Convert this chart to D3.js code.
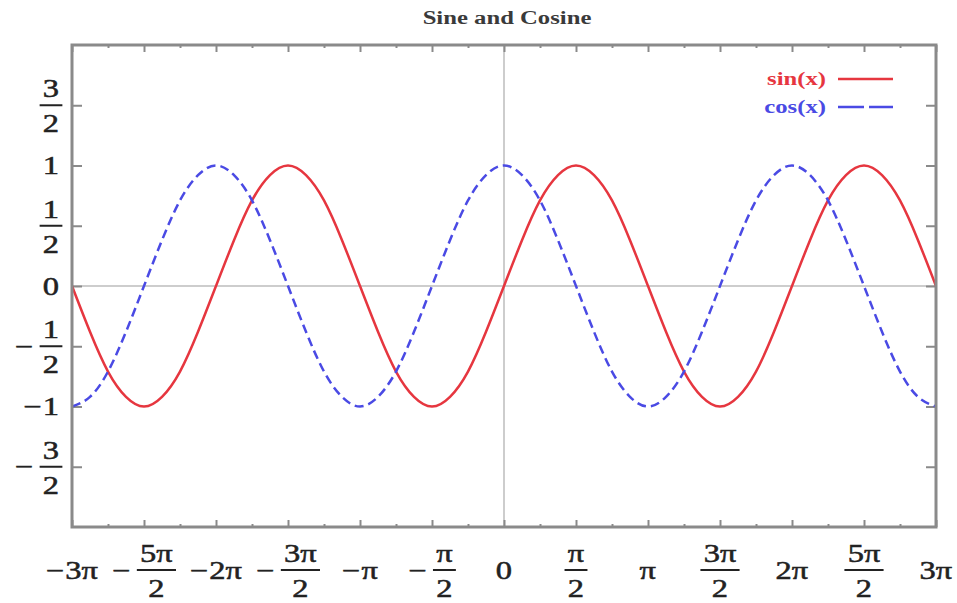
<!DOCTYPE html>
<html>
<head>
<meta charset="utf-8">
<script src="https://cdn.jsdelivr.net/npm/d3@7"></script>
<style>
  body { margin: 0; background: #fff; }
  svg { display: block; }
</style>
</head>
<body>
<svg id="canvas"></svg>
<script>
// Sine and Cosine, x in multiples of pi

// sample positions, in units of pi (step pi/8)
let xPi = [-3, -2.875, -2.75, -2.625, -2.5, -2.375, -2.25, -2.125,
           -2, -1.875, -1.75, -1.625, -1.5, -1.375, -1.25, -1.125,
           -1, -0.875, -0.75, -0.625, -0.5, -0.375, -0.25, -0.125,
           0, 0.125, 0.25, 0.375, 0.5, 0.625, 0.75, 0.875,
           1, 1.125, 1.25, 1.375, 1.5, 1.625, 1.75, 1.875,
           2, 2.125, 2.25, 2.375, 2.5, 2.625, 2.75, 2.875, 3]

let sinValues = [0, -0.38, -0.71, -0.92, -1, -0.92, -0.71, -0.38,
                 0, 0.38, 0.71, 0.92, 1, 0.92, 0.71, 0.38,
                 0, -0.38, -0.71, -0.92, -1, -0.92, -0.71, -0.38,
                 0, 0.38, 0.71, 0.92, 1, 0.92, 0.71, 0.38,
                 0, -0.38, -0.71, -0.92, -1, -0.92, -0.71, -0.38,
                 0, 0.38, 0.71, 0.92, 1, 0.92, 0.71, 0.38, 0]

let cosValues = [-1, -0.92, -0.71, -0.38, 0, 0.38, 0.71, 0.92,
                 1, 0.92, 0.71, 0.38, 0, -0.38, -0.71, -0.92,
                 -1, -0.92, -0.71, -0.38, 0, 0.38, 0.71, 0.92,
                 1, 0.92, 0.71, 0.38, 0, -0.38, -0.71, -0.92,
                 -1, -0.92, -0.71, -0.38, 0, 0.38, 0.71, 0.92,
                 1, 0.92, 0.71, 0.38, 0, -0.38, -0.71, -0.92, -1]

// tick values (pi units for x)
let xMajorTicks = [-3, -2.5, -2, -1.5, -1, -0.5, 0, 0.5, 1, 1.5, 2, 2.5, 3]
let xMinorTicks = [-2.75, -2.25, -1.75, -1.25, -0.75, -0.25, 0.25, 0.75, 1.25, 1.75, 2.25, 2.75]
let xTickLabels = ['−3π', '−5π/2', '−2π', '−3π/2', '−π', '−π/2', '0', 'π/2', 'π', '3π/2', '2π', '5π/2', '3π']

let yTicks = [-1.5, -1, -0.5, 0, 0.5, 1, 1.5]
let yTickLabels = ['−3/2', '−1', '−1/2', '0', '1/2', '1', '3/2']

let seriesNames = ['sin(x)', 'cos(x)']
let seriesColors = ['#e6363f', '#4a4ae4']

//Dimensions
let width = 957
let height = 603
let plotLeft = 72, plotRight = 936, plotTop = 45, plotBottom = 527
let fontFam = '"Liberation Serif", "Times New Roman", serif'
let sx = 1.3        // the picture is stretched sideways
let textColor = '#222'

let svg = d3.select('#canvas').attr('width', width).attr('height', height)

let xScale = d3.scaleLinear().domain([-3 * Math.PI, 3 * Math.PI]).range([plotLeft, plotRight])
let yScale = d3.scaleLinear().domain([-2, 2]).range([plotBottom, plotTop])

svg.append('clipPath').attr('id', 'clip')
  .append('rect')
  .attr('x', plotLeft).attr('y', plotTop)
  .attr('width', plotRight - plotLeft).attr('height', plotBottom - plotTop)

// zero axes
svg.append('line')
  .attr('x1', plotLeft).attr('x2', plotRight)
  .attr('y1', yScale(0)).attr('y2', yScale(0))
  .attr('stroke', '#bdbdbd').attr('stroke-width', 1.5)
svg.append('line')
  .attr('x1', xScale(0)).attr('x2', xScale(0))
  .attr('y1', plotTop).attr('y2', plotBottom)
  .attr('stroke', '#bdbdbd').attr('stroke-width', 1.5)

// ticks on all four sides, pointing inward
let tickAxis = (axis, tx, ty, cls) => {
  let g = svg.append('g')
    .attr('class', cls)
    .attr('transform', `translate(${tx},${ty})`)
    .call(axis)
  g.select('.domain').remove()
  g.selectAll('text').remove()
  g.selectAll('line').attr('stroke', '#8a8a8a').attr('stroke-width', 2)
  return g
}
let xAll = xMajorTicks.concat(xMinorTicks).map(d => d * Math.PI)
let isMinor = d => xMinorTicks.some(m => Math.abs(m * Math.PI - d) < 1e-9)

let bx = tickAxis(d3.axisTop(xScale).tickValues(xAll).tickSize(7), 0, plotBottom, 'x-bottom')
bx.selectAll('.tick line').attr('y2', d => isMinor(d) ? -3 : -7)
let tx = tickAxis(d3.axisBottom(xScale).tickValues(xAll).tickSize(7), 0, plotTop, 'x-top')
tx.selectAll('.tick line').attr('y2', d => isMinor(d) ? 3 : 7)
tickAxis(d3.axisRight(yScale).tickValues(yTicks).tickSize(10), plotLeft, 0, 'y-left')
tickAxis(d3.axisLeft(yScale).tickValues(yTicks).tickSize(10), plotRight, 0, 'y-right')

// curves
let line = d3.line()
  .x((d, i) => xScale(xPi[i] * Math.PI))
  .y(d => yScale(d))
  .curve(d3.curveNatural)

let plot = svg.append('g').attr('clip-path', 'url(#clip)')
plot.append('path')
  .datum(sinValues)
  .attr('d', line)
  .attr('fill', 'none')
  .attr('stroke', seriesColors[0])
  .attr('stroke-width', 2.5)
plot.append('path')
  .datum(cosValues)
  .attr('d', line)
  .attr('fill', 'none')
  .attr('stroke', seriesColors[1])
  .attr('stroke-width', 2.5)
  .attr('stroke-dasharray', '9,5')

// frame
svg.append('rect')
  .attr('x', plotLeft).attr('y', plotTop)
  .attr('width', plotRight - plotLeft).attr('height', plotBottom - plotTop)
  .attr('fill', 'none')
  .attr('stroke', '#8a8a8a')
  .attr('stroke-width', 3)

// shared look of the maths labels
let styleText = (t, size) => t
  .style('font-family', fontFam).style('font-size', size + 'px')
  .attr('fill', textColor)
  .attr('stroke', textColor).attr('stroke-width', 0.5)

// label with optional minus sign and stacked fraction
// cx: where the number (or fraction) is centred, cy: fraction bar / text middle
let mathLabel = (parent, label, cx, cy, size, centreAll) => {
  let g = parent.append('g').attr('transform', `translate(${cx},${cy})`)
  let inner = g.append('g').attr('transform', `scale(${sx},1)`)
  let sign = label.startsWith('−')
  let body = sign ? label.slice(1) : label
  let halfW
  if (body.includes('/')) {
    let [num, den] = body.split('/')
    let tNum = inner.append('text').attr('y', -8).attr('text-anchor', 'middle').text(num)
    let tDen = inner.append('text').attr('y', 27).attr('text-anchor', 'middle').text(den)
    styleText(tNum, size)
    styleText(tDen, size)
    let w = Math.max(tNum.node().getComputedTextLength(), tDen.node().getComputedTextLength()) + 5
    halfW = w / 2
    inner.append('line')
      .attr('x1', -halfW).attr('x2', halfW)
      .attr('y1', 0).attr('y2', 0)
      .attr('stroke', textColor).attr('stroke-width', 2)
  } else {
    let t = inner.append('text').attr('dy', '0.34em').attr('text-anchor', 'middle').text(body)
    styleText(t, size)
    halfW = t.node().getComputedTextLength() / 2
  }
  if (sign) {
    let m = inner.append('text')
      .attr('x', -halfW - (body.includes('/') ? 5 : 1))
      .attr('dy', '0.34em')
      .attr('text-anchor', 'end')
      .text('−')
    styleText(m, size)
  }
  if (centreAll) {
    let bb = inner.node().getBBox()
    let mid = (bb.x + bb.width / 2) * sx
    g.attr('transform', `translate(${cx - mid},${cy})`)
  }
}

let xLabels = svg.append('g').attr('id', 'x-labels')
xMajorTicks.forEach((v, i) => {
  mathLabel(xLabels, xTickLabels[i], xScale(v * Math.PI), 570, 25, true)
})
let yLabels = svg.append('g').attr('id', 'y-labels')
yTicks.forEach((v, i) => {
  mathLabel(yLabels, yTickLabels[i], 51, yScale(v), 25, false)
})

// title
svg.append('text')
  .attr('transform', `translate(507,24) scale(${sx},1)`)
  .attr('text-anchor', 'middle')
  .style('font-family', fontFam)
  .style('font-size', '19px')
  .style('font-weight', 'bold')
  .attr('fill', '#3a3a3a')
  .text('Sine and Cosine')

// legend
let legendY = [79, 107]
seriesNames.forEach((name, i) => {
  svg.append('text')
    .attr('transform', `translate(826,${legendY[i]}) scale(${sx},1)`)
    .attr('dy', '0.33em')
    .attr('text-anchor', 'end')
    .style('font-family', fontFam)
    .style('font-size', '19px')
    .style('font-weight', 'bold')
    .attr('fill', seriesColors[i])
    .text(name)
  svg.append('line')
    .attr('x1', 838).attr('x2', 893)
    .attr('y1', legendY[i]).attr('y2', legendY[i])
    .attr('stroke', seriesColors[i])
    .attr('stroke-width', 2.5)
    .attr('stroke-dasharray', i === 1 ? '26,5' : null)
})
</script>
</body>
</html>
